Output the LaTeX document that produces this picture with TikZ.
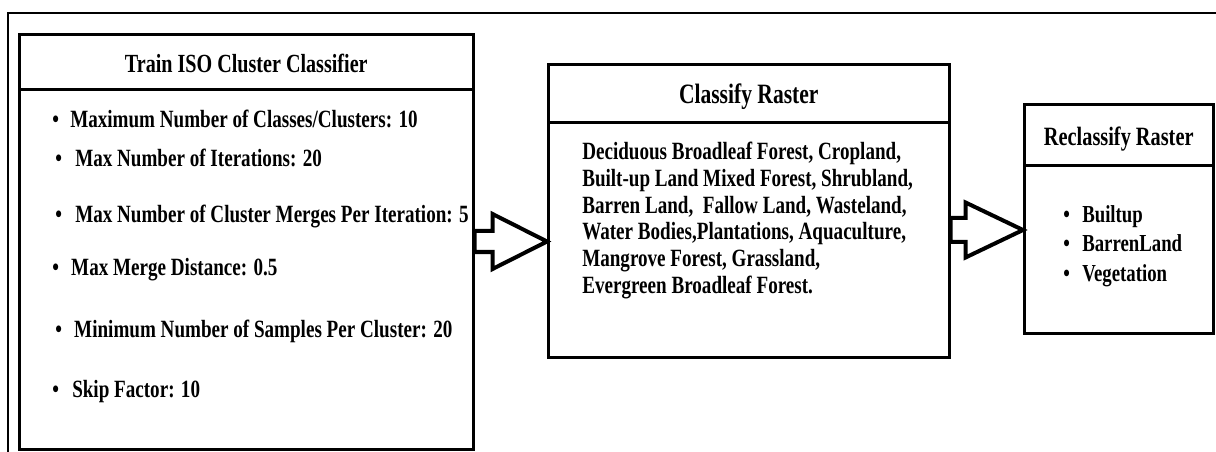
\documentclass[tikz,border=0pt]{standalone}
\usepackage{fontspec}
\setmainfont{Liberation Serif}[FakeStretch=0.77]
\usetikzlibrary{calc}
\newdimen\px \px=0.75pt
\begin{document}
\begin{tikzpicture}[x=0.75pt,y=-0.75pt,
  frame/.style={line width=1.9pt},
  boxpart/.style={draw, line width=1.9pt, inner sep=0pt, anchor=north west},
  titletxt/.style={font=\bfseries\fontsize{19.8}{23}\selectfont, text height=16pt, text depth=0pt},
  item/.style={anchor=base west, inner sep=0pt, font=\bfseries\fontsize{18.6}{22}\selectfont},
  bigarrow/.style={draw, line width=3pt, fill=white, miter limit=10}]
\useasboundingbox (0,0) rectangle (1216,452);
% outer frame
\coordinate (fs) at (8,453);
\coordinate (fc) at (8,13);
\coordinate (fe) at (1217,13);
\draw[frame] (fs) -- (fc) -- (fe);
% box 1
\node[boxpart, minimum width=454\px, minimum height=55\px, titletxt, font=\bfseries\fontsize{19.6}{23}\selectfont] (t1) at (18,33) {Train ISO Cluster Classifier};
\node[boxpart, minimum width=454\px, minimum height=360\px] (b1) at (18,88) {};
\node[item] (i1) at (52,128) {\makebox[18\px][l]{\textbullet}Maximum Number of Classes/Clusters: 10};
\node[item] (i2) at (55,167) {\makebox[20\px][l]{\textbullet}Max Number of Iterations: 20};
\node[item] (i3) at (55,223) {\makebox[20\px][l]{\textbullet}Max Number of Cluster Merges Per Iteration: 5};
\node[item] (i4) at (52,275) {\makebox[19\px][l]{\textbullet}Max Merge Distance: 0.5};
\node[item] (i5) at (55,337) {\makebox[19\px][l]{\textbullet}Minimum Number of Samples Per Cluster: 20};
\node[item] (i6) at (52,397) {\makebox[20\px][l]{\textbullet}Skip Factor: 10};
% box 2
\node[boxpart, minimum width=401\px, minimum height=58\px, titletxt, font=\bfseries\fontsize{21}{24}\selectfont] (t2) at (547,63) {Classify Raster};
\node[boxpart, minimum width=401\px, minimum height=235\px] (b2) at (547,121) {};
\node[item] (c1) at (582,160) {Deciduous Broadleaf Forest, Cropland,};
\node[item] (c2) at (582,186.6) {Built-up Land Mixed Forest, Shrubland,};
\node[item] (c3) at (582,213.2) {Barren Land,\ \ Fallow Land, Wasteland,};
\node[item] (c4) at (582,239.8) {Water Bodies,Plantations, Aquaculture,};
\node[item] (c5) at (582,266.4) {Mangrove Forest, Grassland,};
\node[item] (c6) at (582,293) {Evergreen Broadleaf Forest.};
% box 3
\node[boxpart, minimum width=189\px, minimum height=61\px, titletxt] (t3) at (1023,103) {Reclassify Raster};
\node[boxpart, minimum width=189\px, minimum height=168\px] (b3) at (1023,164) {};
\node[item, font=\bfseries\fontsize{18.3}{22}\selectfont] (r1) at (1063,223) {\makebox[19\px][l]{\textbullet}Builtup};
\node[item, font=\bfseries\fontsize{18.3}{22}\selectfont] (r2) at (1063,252) {\makebox[19\px][l]{\textbullet}BarrenLand};
\node[item, font=\bfseries\fontsize{18.3}{22}\selectfont] (r3) at (1063,281) {\makebox[19\px][l]{\textbullet}Vegetation};
% arrows
\coordinate (y1) at (0,241.5);
\coordinate (y2) at (0,230);
\draw[bigarrow] (b1.east |- y1) ++(0,-10.5) -- ++(18,0) -- ++(0,-17) -- (b2.west |- y1)
  -- ($(b1.east |- y1)+(18,27.5)$) -- ++(0,-17) -- ++(-18,0) -- cycle;
\draw[bigarrow] (b2.east |- y2) ++(0,-12) -- ++(15,0) -- ++(0,-15.5) -- (b3.west |- y2)
  -- ($(b2.east |- y2)+(15,27.5)$) -- ++(0,-15.5) -- ++(-15,0) -- cycle;
\end{tikzpicture}
\end{document}
